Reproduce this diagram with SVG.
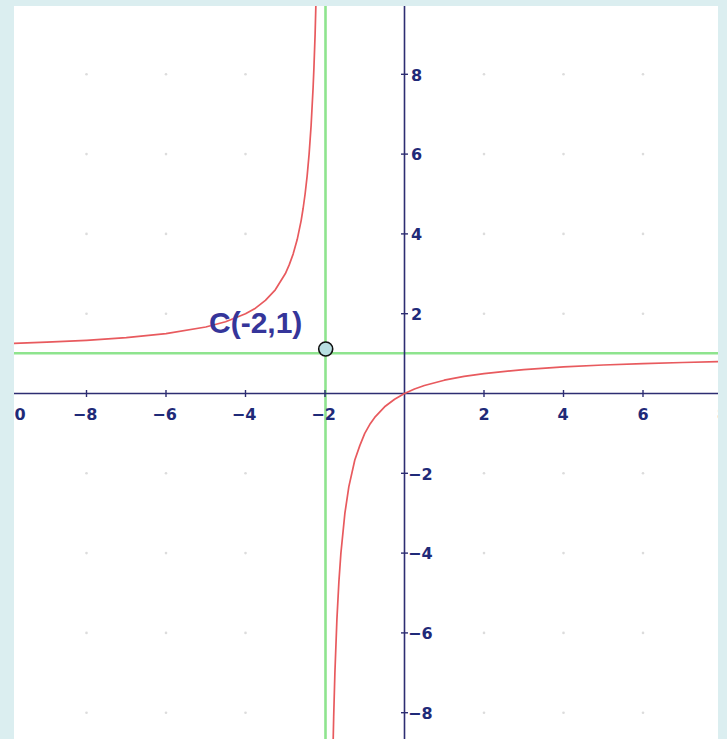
<svg xmlns="http://www.w3.org/2000/svg" width="727" height="739" viewBox="0 0 727 739">
<style>
.axis{stroke:#2d2d72;stroke-width:1.6;fill:none}
.tick{stroke:#2d2d72;stroke-width:1.4}
.asym{stroke:#8ee48e;stroke-width:2.6;fill:none}
.curve{stroke:#e85a5e;stroke-width:1.7;fill:none;stroke-linejoin:round}
.dot{fill:#dcdcdc}
.lbl{font-family:"DejaVu Sans",Verdana,sans-serif;font-weight:bold;font-size:16px;fill:#1f2a78}
.xl{text-anchor:middle}
.title{font-family:"Liberation Sans",Arial,sans-serif;font-weight:bold;font-size:30px;fill:#35359a}
</style>
<defs>
<clipPath id="plot"><rect x="14" y="6" width="704" height="733"/></clipPath>
</defs>
<rect x="0" y="0" width="727" height="739" fill="#dbeef0"/>
<rect x="14" y="6" width="704" height="733" fill="#ffffff"/>
<g id="grid">
<g class="dot">
<circle cx="86.5" cy="74.3" r="1.3"/><circle cx="166" cy="74.3" r="1.3"/><circle cx="245.5" cy="74.3" r="1.3"/><circle cx="484" cy="74.3" r="1.3"/><circle cx="563.5" cy="74.3" r="1.3"/><circle cx="643" cy="74.3" r="1.3"/>
<circle cx="86.5" cy="154.1" r="1.3"/><circle cx="166" cy="154.1" r="1.3"/><circle cx="245.5" cy="154.1" r="1.3"/><circle cx="484" cy="154.1" r="1.3"/><circle cx="563.5" cy="154.1" r="1.3"/><circle cx="643" cy="154.1" r="1.3"/>
<circle cx="86.5" cy="233.9" r="1.3"/><circle cx="166" cy="233.9" r="1.3"/><circle cx="245.5" cy="233.9" r="1.3"/><circle cx="484" cy="233.9" r="1.3"/><circle cx="563.5" cy="233.9" r="1.3"/><circle cx="643" cy="233.9" r="1.3"/>
<circle cx="86.5" cy="313.7" r="1.3"/><circle cx="166" cy="313.7" r="1.3"/><circle cx="484" cy="313.7" r="1.3"/><circle cx="563.5" cy="313.7" r="1.3"/><circle cx="643" cy="313.7" r="1.3"/>
<circle cx="86.5" cy="473.3" r="1.3"/><circle cx="166" cy="473.3" r="1.3"/><circle cx="245.5" cy="473.3" r="1.3"/><circle cx="484" cy="473.3" r="1.3"/><circle cx="563.5" cy="473.3" r="1.3"/><circle cx="643" cy="473.3" r="1.3"/>
<circle cx="86.5" cy="553.1" r="1.3"/><circle cx="166" cy="553.1" r="1.3"/><circle cx="245.5" cy="553.1" r="1.3"/><circle cx="484" cy="553.1" r="1.3"/><circle cx="563.5" cy="553.1" r="1.3"/><circle cx="643" cy="553.1" r="1.3"/>
<circle cx="86.5" cy="632.9" r="1.3"/><circle cx="166" cy="632.9" r="1.3"/><circle cx="245.5" cy="632.9" r="1.3"/><circle cx="484" cy="632.9" r="1.3"/><circle cx="563.5" cy="632.9" r="1.3"/><circle cx="643" cy="632.9" r="1.3"/>
<circle cx="86.5" cy="712.7" r="1.3"/><circle cx="166" cy="712.7" r="1.3"/><circle cx="245.5" cy="712.7" r="1.3"/><circle cx="484" cy="712.7" r="1.3"/><circle cx="563.5" cy="712.7" r="1.3"/><circle cx="643" cy="712.7" r="1.3"/>
</g>
</g>
<g id="connectors" clip-path="url(#plot)">
<line id="asym-x" class="asym" x1="325.5" y1="6" x2="325.5" y2="739"/>
<line id="asym-y" class="asym" x1="14" y1="353.3" x2="718" y2="353.3"/>
<line id="x-axis" class="axis" x1="14" y1="393.5" x2="718" y2="393.5"/>
<line id="y-axis" class="axis" x1="404.5" y1="6" x2="404.5" y2="739"/>
<g class="tick">
<line x1="86.5" y1="390" x2="86.5" y2="397"/><line x1="166" y1="390" x2="166" y2="397"/><line x1="245.5" y1="390" x2="245.5" y2="397"/><line x1="325" y1="390" x2="325" y2="397"/><line x1="484" y1="390" x2="484" y2="397"/><line x1="563.5" y1="390" x2="563.5" y2="397"/><line x1="643" y1="390" x2="643" y2="397"/>
<line x1="401" y1="74.3" x2="408" y2="74.3"/><line x1="401" y1="154.1" x2="408" y2="154.1"/><line x1="401" y1="233.9" x2="408" y2="233.9"/><line x1="401" y1="313.7" x2="408" y2="313.7"/><line x1="401" y1="473.3" x2="408" y2="473.3"/><line x1="401" y1="553.1" x2="408" y2="553.1"/><line x1="401" y1="632.9" x2="408" y2="632.9"/><line x1="401" y1="712.7" x2="408" y2="712.7"/>
</g>
<polyline id="branch-left" class="curve" points="14,343.4 46.75,342.2 86.5,340.3 126.25,337.6 166,333.65 205.75,327.0 225.6,321.7 245.5,313.7 255.5,308.2 265.4,300.4 275.3,289.8 285.25,273.8 289.2,264.9 293.2,253.85 297.2,239.6 301.15,220.6 303.1,208.5 305.1,194 307.1,176.3 309.1,154.1 311.1,125.6 313.1,87.6 313.9,68.6 315.1,34.4 315.85,6"/>
<polyline id="branch-right" class="curve" points="333.2,739 333.7,716.3 334.9,672.8 336.9,619.6 338.9,581.6 340.9,553.1 344.9,513.2 348.85,486.6 354.8,460.0 359.8,445.6 364.75,433.4 369.7,424.6 374.7,417.4 384.6,406.8 394.6,399.2 404.5,393.5 414.5,389.0 424.4,385.5 444.25,380.2 464.1,376.4 484,373.55 523.75,369.6 563.5,366.9 603.25,365.0 643,363.6 682.75,362.5 718,361.7"/>
</g>
<g id="x-labels" clip-path="url(#plot)">
<text class="lbl" x="14.5" y="420">0</text>
<text class="lbl xl" x="85" y="420">−8</text>
<text class="lbl xl" x="164.5" y="420">−6</text>
<text class="lbl xl" x="244" y="420">−4</text>
<text class="lbl xl" x="323.5" y="420">−2</text>
<text class="lbl xl" x="484" y="420">2</text>
<text class="lbl xl" x="563" y="420">4</text>
<text class="lbl xl" x="643" y="420">6</text>
<text class="lbl xl" x="722.5" y="420">8</text>
</g>
<g id="y-labels">
<text class="lbl" x="411" y="80.5">8</text>
<text class="lbl" x="411" y="160">6</text>
<text class="lbl" x="411" y="240">4</text>
<text class="lbl" x="411" y="319.5">2</text>
<text class="lbl" x="408" y="479.5">−2</text>
<text class="lbl" x="408" y="559">−4</text>
<text class="lbl" x="408" y="639">−6</text>
<text class="lbl" x="408" y="718.5">−8</text>
</g>
<g id="point-C">
<circle cx="325.7" cy="349" r="7" fill="#b9dfe2" stroke="#111111" stroke-width="1.6"/>
<text class="title" x="209" y="333">C(-2,1)</text>
</g>
</svg>
